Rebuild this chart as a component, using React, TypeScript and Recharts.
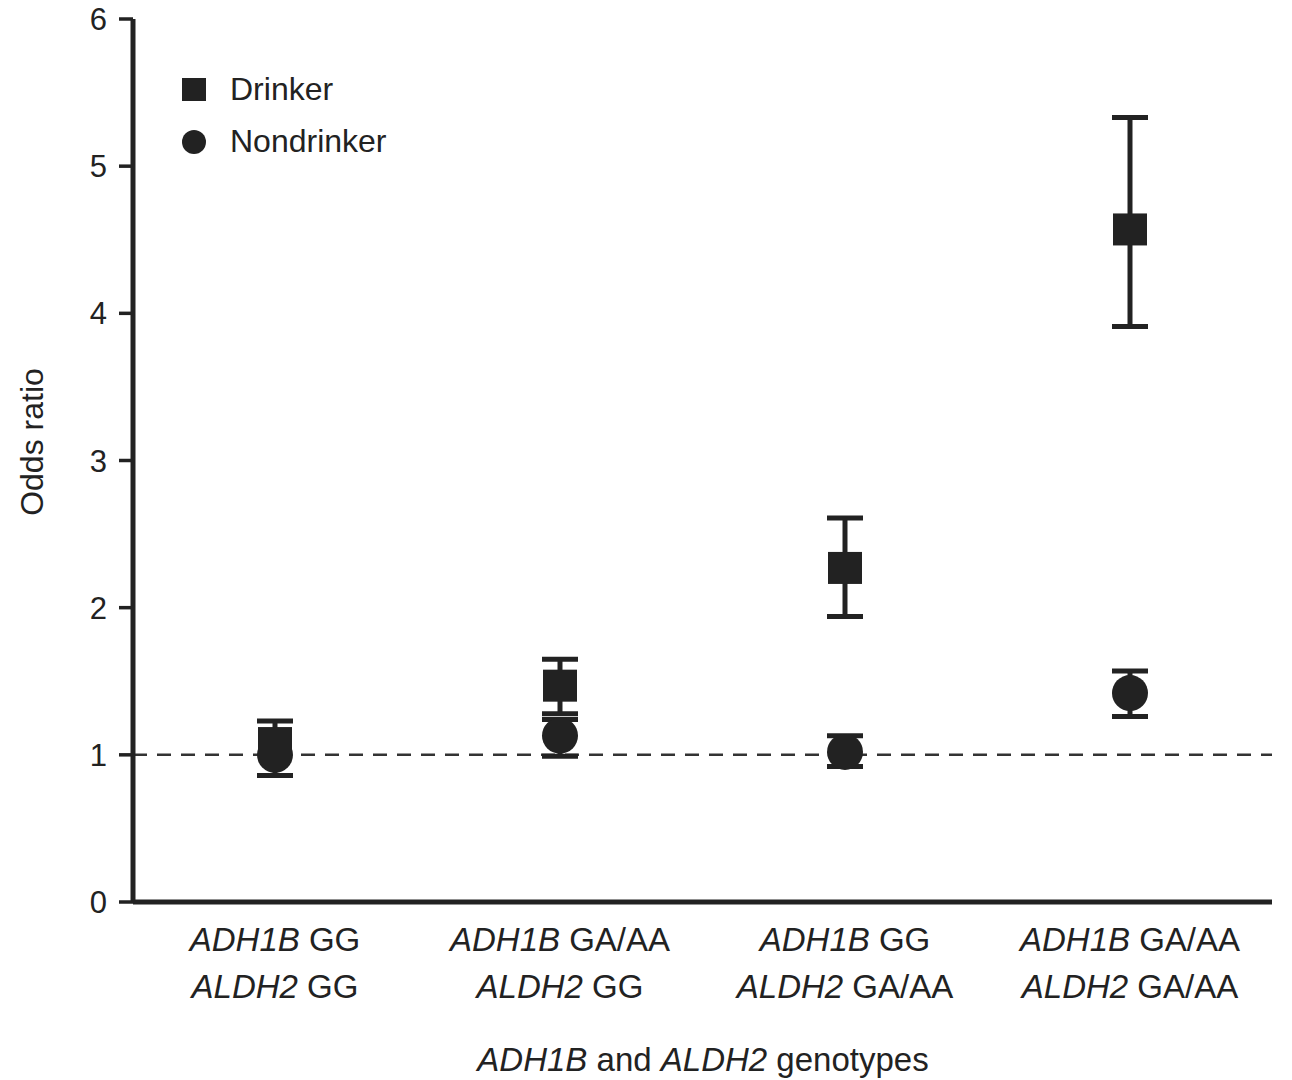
import {
  ComposedChart,
  Scatter,
  ErrorBar,
  XAxis,
  YAxis,
  ReferenceLine,
  Legend,
} from 'recharts';

// genotype groups (line 1: ADH1B, line 2: ALDH2)
const adh1bGenotypes = ['GG', 'GA/AA', 'GG', 'GA/AA'];
const aldh2Genotypes = ['GG', 'GG', 'GA/AA', 'GA/AA'];

// odds ratios with 95% CI
const drinkerOR = [1.08, 1.47, 2.27, 4.57];
const drinkerLower = [0.86, 1.28, 1.94, 3.91];
const drinkerUpper = [1.23, 1.65, 2.61, 5.33];

const nondrinkerOR = [1.0, 1.13, 1.02, 1.42];
const nondrinkerLower = [null, 0.99, 0.92, 1.26];
const nondrinkerUpper = [null, 1.24, 1.13, 1.57];

const yTicks = [0, 1, 2, 3, 4, 5, 6];

const INK = '#222';
const FONT = '"Liberation Sans", Arial, Helvetica, sans-serif';

const chartData = adh1bGenotypes.map((g, i) => ({
  group: `${g}|${aldh2Genotypes[i]}`,
  adh1b: g,
  aldh2: aldh2Genotypes[i],
  drinker: drinkerOR[i],
  drinkerErr: [drinkerOR[i] - drinkerLower[i], drinkerUpper[i] - drinkerOR[i]],
  nondrinker: nondrinkerOR[i],
  nondrinkerErr:
    nondrinkerLower[i] == null || nondrinkerUpper[i] == null
      ? null
      : [nondrinkerOR[i] - (nondrinkerLower[i] as number), (nondrinkerUpper[i] as number) - nondrinkerOR[i]],
}));

const SquareMarker = (p: any) => (
  <rect x={p.cx - 17} y={p.cy - 16} width={34} height={32} fill={INK} />
);

const CircleMarker = (p: any) => <circle cx={p.cx} cy={p.cy} r={18} fill={INK} />;

const GenotypeTick = (props: any) => {
  const { x, y, index } = props;
  const row = chartData[index];
  if (!row) return null;
  return (
    <g transform={`translate(${x},${y})`}>
      <text textAnchor="middle" fontSize={33} fill={INK} fontFamily={FONT}>
        <tspan x={0} y={41}>
          <tspan fontStyle="italic">ADH1B</tspan> {row.adh1b}
        </tspan>
        <tspan x={0} y={88}>
          <tspan fontStyle="italic">ALDH2</tspan> {row.aldh2}
        </tspan>
      </text>
    </g>
  );
};

const XTitle = () => (
  <text x={703} y={1071} textAnchor="middle" fontSize={33} fill={INK} fontFamily={FONT}>
    <tspan fontStyle="italic">ADH1B</tspan> and <tspan fontStyle="italic">ALDH2</tspan> genotypes
  </text>
);

const YTitle = () => (
  <text
    x={32}
    y={442}
    transform="rotate(-90, 32, 442)"
    textAnchor="middle"
    dominantBaseline="central"
    fontSize={32}
    fill={INK}
    fontFamily={FONT}
  >
    Odds ratio
  </text>
);

const LegendBox = () => (
  <svg width={270} height={110} style={{ display: 'block' }}>
    <rect x={12} y={18} width={24} height={23} fill={INK} />
    <text x={60} y={29} dominantBaseline="central" fontSize={32} fill={INK} fontFamily={FONT}>
      Drinker
    </text>
    <circle cx={24} cy={82} r={12} fill={INK} />
    <text x={60} y={81} dominantBaseline="central" fontSize={32} fill={INK} fontFamily={FONT}>
      Nondrinker
    </text>
  </svg>
);

export default function App() {
  return (
    <div style={{ position: 'absolute', left: 0, top: 0, background: '#fff', fontFamily: FONT }}>
      <ComposedChart
        width={1292}
        height={1080}
        data={chartData}
        margin={{ top: 19, right: 20, bottom: 0, left: 33 }}
      >
        <XAxis
          dataKey="group"
          height={178}
          padding={{ left: 142, right: 142 }}
          axisLine={{ stroke: INK, strokeWidth: 5 }}
          tickLine={false}
          tick={<GenotypeTick />}
          interval={0}
          label={<XTitle />}
        />
        <YAxis
          width={100}
          domain={[0, 6]}
          ticks={yTicks}
          allowDataOverflow
          axisLine={{ stroke: INK, strokeWidth: 5 }}
          tickLine={{ stroke: INK, strokeWidth: 3.5 }}
          tickSize={14}
          tickMargin={12}
          tick={{ fontSize: 31, fill: INK, fontFamily: FONT }}
          label={<YTitle />}
        />
        <Legend
          layout="vertical"
          align="center"
          verticalAlign="middle"
          wrapperStyle={{ left: 170, top: 60, width: 270, height: 110 }}
          content={() => <LegendBox />}
        />
        <ReferenceLine y={1} stroke="#333" strokeWidth={2.5} strokeDasharray="14 10" />
        <Scatter
          name="Nondrinker"
          dataKey="nondrinker"
          shape={<CircleMarker />}
          isAnimationActive={false}
        >
          <ErrorBar dataKey="nondrinkerErr" direction="y" width={18} stroke={INK} strokeWidth={5} />
        </Scatter>
        <Scatter
          name="Drinker"
          dataKey="drinker"
          shape={<SquareMarker />}
          isAnimationActive={false}
        >
          <ErrorBar dataKey="drinkerErr" direction="y" width={18} stroke={INK} strokeWidth={5} />
        </Scatter>
      </ComposedChart>
    </div>
  );
}
